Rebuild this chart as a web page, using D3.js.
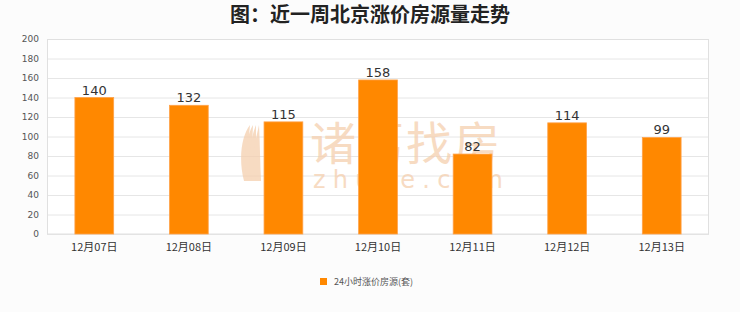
<!DOCTYPE html>
<html><head><meta charset="utf-8">
<script src="https://cdn.jsdelivr.net/npm/d3@7"></script>
<style>body{margin:0;background:#fcfcfc;}svg{display:block;}</style>
</head><body>
<svg id="c" width="740" height="312"></svg>
<script>
const categories = ["12月07日","12月08日","12月09日","12月10日","12月11日","12月12日","12月13日"];
const values = [140,132,115,158,82,114,99];
const yTicks = [0,20,40,60,80,100,120,140,160,180,200];
const title = "图：近一周北京涨价房源量走势";
const seriesName = "24小时涨价房源(套)";

const svg = d3.select("#c");
const W = 740, H = 312;
const m = {left:47, right:31, top:39, bottom:78};
const iw = W - m.left - m.right, ih = H - m.top - m.bottom;
const cjk = "'Noto Sans CJK SC','Noto Sans',sans-serif";

svg.append("rect").attr("width",W).attr("height",H).attr("fill","#fcfcfc");

svg.append("text").attr("x",370).attr("y",22).attr("text-anchor","middle")
  .attr("font-family",cjk).attr("font-weight","bold").attr("font-size",20)
  .attr("fill","#222").text(title);

const g = svg.append("g").attr("transform",`translate(${m.left},${m.top})`);
const x = d3.scaleBand().domain(categories).range([0,iw]).paddingInner(0.59).paddingOuter(0.295);
const y = d3.scaleLinear().domain([0,200]).range([ih,0]);

g.append("rect").attr("width",iw).attr("height",ih).attr("fill","#ffffff");

// gridlines
g.append("g").selectAll("line").data(yTicks).join("line")
  .attr("x1",0).attr("x2",iw).attr("y1",d=>y(d)+0.5).attr("y2",d=>y(d)+0.5)
  .attr("stroke","#e6e6e6").attr("stroke-width",1);

// watermark
const wm = g.append("g").attr("opacity",0.75);
const wx = 240 - m.left, wy = 123 - m.top;
[0,1,2,3].forEach(i=>{
  wm.append("path")
    .attr("d",`M${wx+4+i*4},${wy+58} C${wx-2+i*4},${wy+35} ${wx+2+i*5},${wy+12} ${wx+10+i*3},${wy+2} C${wx+8+i*4},${wy+20} ${wx+8+i*4},${wy+40} ${wx+12+i*3},${wy+58} Z`)
    .attr("fill","#f5cfae");
});
wm.append("text").attr("x",310-m.left).attr("y",160-m.top)
  .attr("font-family",cjk).attr("font-size",46).attr("fill","#f5cfae")
  .attr("textLength",190).text("诸葛找房");
wm.append("text").attr("x",313-m.left).attr("y",188-m.top)
  .attr("font-family","'DejaVu Sans',sans-serif").attr("font-size",24).attr("fill","#f5cfae")
  .attr("textLength",190).attr("lengthAdjust","spacing").text("zhuge.com");

// frame
g.append("rect").attr("x",0.5).attr("y",0.5).attr("width",iw-1).attr("height",ih-0.5)
  .attr("fill","none").attr("stroke","#e0e0e0");

// bars
g.append("g").selectAll("rect").data(values).join("rect")
  .attr("x",(d,i)=>x(categories[i])).attr("width",x.bandwidth())
  .attr("y",d=>y(d)).attr("height",d=>ih-y(d))
  .attr("fill","#ff8800").attr("stroke","#ffa24a").attr("stroke-width",0.8);

// value labels
g.append("g").selectAll("text").data(values).join("text")
  .attr("x",(d,i)=>x(categories[i])+x.bandwidth()/2).attr("y",d=>y(d)-3)
  .attr("text-anchor","middle").attr("font-family","'DejaVu Sans',sans-serif")
  .attr("font-size",13).attr("fill","#333").text(d=>d);

// y axis
const ya = g.append("g").call(d3.axisLeft(y).tickValues(yTicks).tickSize(0).tickPadding(8));
ya.select(".domain").remove();
ya.selectAll("text").attr("font-family","'DejaVu Sans',sans-serif").attr("font-size",9).attr("fill","#555");

// x axis
const xa = g.append("g").attr("transform",`translate(0,${ih})`).call(d3.axisBottom(x).tickSize(0).tickPadding(9));
xa.select(".domain").remove();
xa.selectAll("text").attr("font-family",cjk).attr("font-size",11).attr("fill","#333");

// legend
const lg = svg.append("g").attr("transform","translate(320,282)");
lg.append("rect").attr("x",0).attr("y",-4).attr("width",7).attr("height",7).attr("fill","#ff8800");
lg.append("text").attr("x",14).attr("y",3).attr("font-family",cjk).attr("font-size",9)
  .attr("fill","#555").text(seriesName);
</script>
</body></html>
